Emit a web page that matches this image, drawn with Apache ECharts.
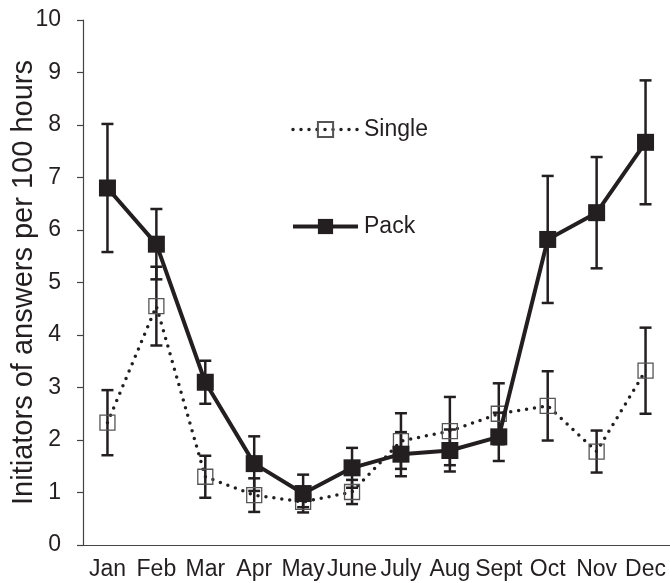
<!DOCTYPE html>
<html>

<head>
    <title></title>
    <meta charset="utf-8">
    <script src="https://cdn.jsdelivr.net/npm/echarts@6/dist/echarts.min.js"></script>
    <style>
        body {
            margin: 0;
            background: #fff;
        }
    </style>
</head>

<body>
    <div id="main" style="width: 670px;height:583px;"></div>
    <script type="text/javascript">
        var months = ['Jan', 'Feb', 'Mar', 'Apr', 'May', 'June', 'July', 'Aug', 'Sept', 'Oct', 'Nov', 'Dec'];
        var yTicks = [0, 1, 2, 3, 4, 5, 6, 7, 8, 9, 10];

        // mean values and half-width of the error bars
        var singleMean = [2.33, 4.55, 1.3, 0.95, 0.82, 1.01, 1.98, 2.17, 2.5, 2.65, 1.78, 3.32];
        var singleErr = [0.62, 0.75, 0.4, 0.32, 0.1, 0.23, 0.53, 0.65, 0.58, 0.66, 0.4, 0.82];
        var packMean = [6.8, 5.73, 3.1, 1.55, 0.98, 1.47, 1.73, 1.8, 2.06, 5.82, 6.33, 7.67];
        var packErr = [1.22, 0.67, 0.41, 0.52, 0.36, 0.38, 0.42, 0.4, 0.46, 1.21, 1.06, 1.18];

        var ink = '#231f20';
        var singleLine = { color: ink, width: 3.5, type: [0, 8], cap: 'round' };
        var packLine = { color: ink, width: 4 };

        function errData(mean, err) {
            var out = [];
            for (var i = 0; i < mean.length; i++) {
                out.push([i, mean[i] - err[i], mean[i] + err[i]]);
            }
            return out;
        }

        function renderErr(params, api) {
            var lo = api.coord([api.value(0), api.value(1)]);
            var hi = api.coord([api.value(0), api.value(2)]);
            var w = 6;
            var st = { stroke: ink, lineWidth: 2.5 };
            return {
                type: 'group',
                children: [
                    { type: 'line', shape: { x1: lo[0], y1: lo[1], x2: hi[0], y2: hi[1] }, style: st },
                    { type: 'line', shape: { x1: hi[0] - w, y1: hi[1], x2: hi[0] + w, y2: hi[1] }, style: st },
                    { type: 'line', shape: { x1: lo[0] - w, y1: lo[1], x2: lo[0] + w, y2: lo[1] }, style: st }
                ]
            };
        }

        var myChart = echarts.init(document.getElementById('main'));
        var option = {
            animation: false,
            backgroundColor: '#fff',
            textStyle: { fontFamily: 'Liberation Sans, Arial, sans-serif', color: ink },
            grid: { left: 83, right: 0, top: 20, bottom: 38, containLabel: false, outerBoundsMode: 'none' },
            legend: {
                orient: 'vertical',
                left: 286,
                top: 113,
                itemGap: 74,
                itemWidth: 65,
                itemHeight: 19,
                textStyle: { fontSize: 23, color: ink, padding: [0, 0, 0, 1] },
                data: [
                    { name: 'Single', lineStyle: singleLine },
                    { name: 'Pack', lineStyle: packLine }
                ]
            },
            xAxis: {
                type: 'category',
                data: months,
                boundaryGap: true,
                axisLine: { lineStyle: { color: '#444', width: 1.2 } },
                axisTick: { interval: 0, length: 6, lineStyle: { color: '#444', width: 1.2 } },
                axisLabel: { interval: 0, fontSize: 23, color: ink, margin: 13 }
            },
            yAxis: {
                type: 'value',
                min: yTicks[0],
                max: yTicks[yTicks.length - 1],
                interval: 1,
                name: 'Initiators of answers per 100 hours',
                nameLocation: 'middle',
                nameGap: 45,
                nameMoveOverlap: false,
                nameTextStyle: { fontSize: 29, color: ink },
                axisLine: { show: true, lineStyle: { color: '#444', width: 1.2 } },
                axisTick: { show: true, length: 6, lineStyle: { color: '#444', width: 1.2 } },
                axisLabel: { fontSize: 23, color: ink, margin: 22 },
                splitLine: { show: false }
            },
            series: [
                {
                    name: 'singleErr',
                    type: 'custom',
                    renderItem: renderErr,
                    data: errData(singleMean, singleErr),
                    z: 1
                },
                {
                    name: 'packErr',
                    type: 'custom',
                    renderItem: renderErr,
                    data: errData(packMean, packErr),
                    z: 1
                },
                {
                    name: 'Single',
                    type: 'line',
                    data: singleMean,
                    symbol: 'rect',
                    symbolSize: 15,
                    itemStyle: { color: 'rgba(255,255,255,0)', borderColor: '#555', borderWidth: 1.3 },
                    lineStyle: singleLine,
                    z: 2
                },
                {
                    name: 'Pack',
                    type: 'line',
                    data: packMean,
                    symbol: 'rect',
                    symbolSize: 17,
                    itemStyle: { color: ink, borderWidth: 0 },
                    lineStyle: packLine,
                    z: 3
                }
            ]
        };
        myChart.setOption(option);
    </script>
</body>

</html>
